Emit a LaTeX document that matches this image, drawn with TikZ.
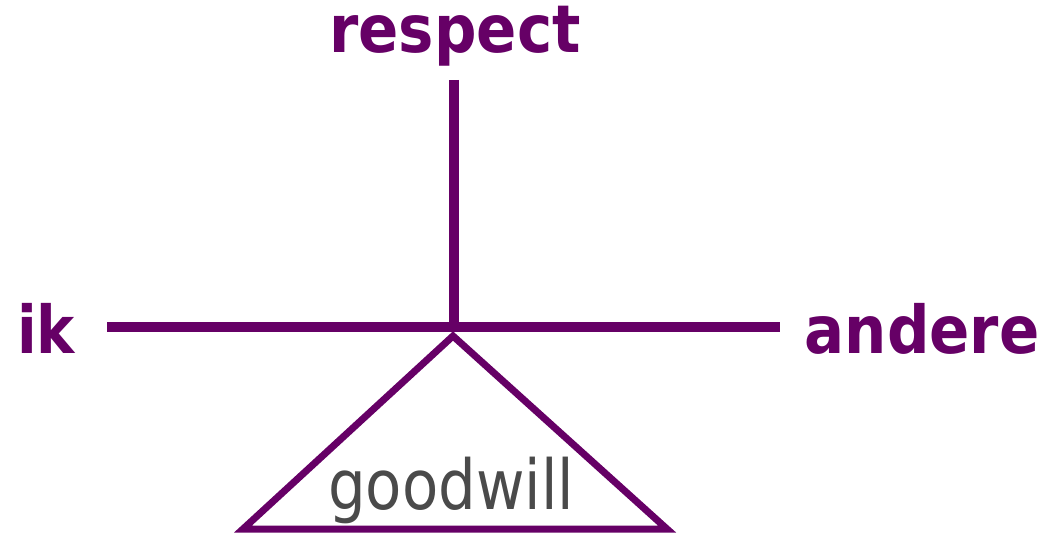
\documentclass[tikz,border=0pt]{standalone}
\usepackage{fontspec}
\setmainfont{DejaVu Sans}
\definecolor{plum}{HTML}{660066}
\definecolor{txtgrey}{HTML}{4A4A4A}
\begin{document}
\begin{tikzpicture}[x=1pt,y=-1pt,
  lbl/.style={inner sep=0pt,anchor=base,text=plum,font=\bfseries\fontsize{66}{70}\selectfont},
  beam/.style={draw=plum,line width=10pt},
  pan/.style={draw=plum,line width=7pt,line join=miter}]
\useasboundingbox (0,0) rectangle (1047,535);
\coordinate (L) at (107,327);
\coordinate (R) at (780,327);
\coordinate (T) at (453.5,80);
\coordinate (C) at (453.5,332);
\coordinate (A) at (453,336);
\coordinate (BL) at (243,529);
\coordinate (BR) at (667,529);
\draw[beam] (L) -- (R);
\draw[beam] (T) -- (C);
\draw[pan] (A) -- (BR) -- (BL) -- cycle;
\node[lbl,xscale=0.9] (respect) at (455,53) {respect};
\node[lbl,xscale=0.87] (ik) at (46,353) {ik};
\node[lbl,xscale=0.9] (andere) at (922,353) {andere};
\node[inner sep=0pt,anchor=base,text=txtgrey,font=\fontsize{69}{72}\selectfont,xscale=0.86] (goodwill) at (451,509) {goodwill};
\end{tikzpicture}
\end{document}
